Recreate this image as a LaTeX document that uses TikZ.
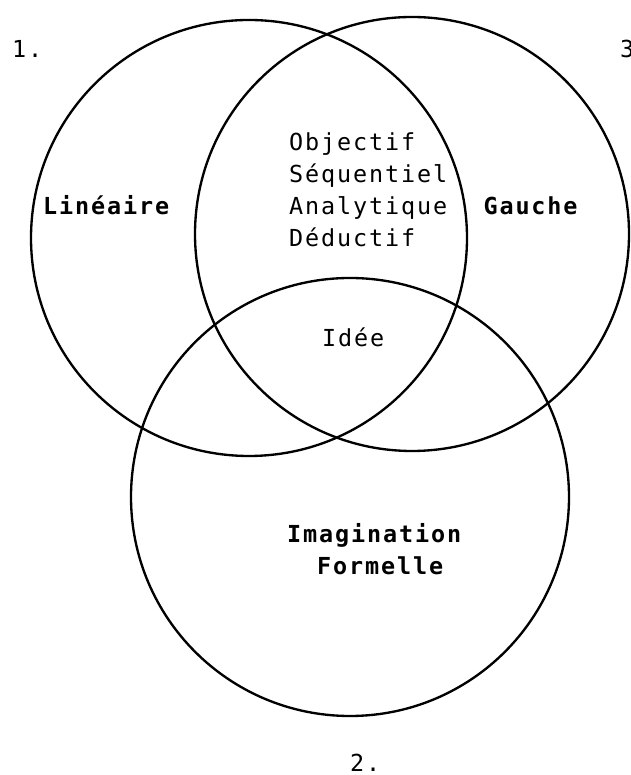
\documentclass[tikz,border=0pt]{standalone}
\usepackage{fontspec}
\setmonofont{DejaVu Sans Mono}[LetterSpace=8]
\begin{document}
\begin{tikzpicture}[
  lbl/.style={inner sep=0pt, anchor=base west, font=\ttfamily\fontsize{20}{27}\selectfont},
  blbl/.style={lbl, font=\ttfamily\bfseries\fontsize{20}{27}\selectfont},
  ring/.style={line width=2pt}
]

% Fix the size of the page
\useasboundingbox (0,0) rectangle (18.9,23.25);

% Define the centres of the three circles
\coordinate (L) at (7.47,16.11);
\coordinate (G) at (12.36,16.23);
\coordinate (F) at (10.5,8.34);

% Draw the circles
% Circle 1 (left)
\draw[ring] (L) circle (6.54);
% Circle 3 (right)
\draw[ring] (G) circle (6.51);
% Circle 2 (bottom)
\draw[ring] (F) circle (6.57);

% Number the circles
\node[lbl] (n1) at (0.36,21.51) {1.};
\node[lbl] (n3) at (18.6,21.51) {3};
\node[lbl] (n2) at (10.5,0.12) {2.};

% Label each circle
\node[blbl] (lin) at (1.29,16.8) {Linéaire};
\node[blbl] (gau) at (14.5,16.8) {Gauche};
\node[blbl] (ima) at (8.61,6.96) {Imagination};
\node[blbl] (for) at (9.51,6.0) {Formelle};

% Words in the overlap of 1 and 3
\foreach \w [count=\i] in {Objectif,Séquentiel,Analytique,Déductif}
  \node[lbl] (w\i) at (8.67,{18.72-0.96*(\i-1)}) {\w};

% Centre of all three
\node[lbl] (ide) at (9.66,12.84) {Idée};

\end{tikzpicture}
\end{document}
